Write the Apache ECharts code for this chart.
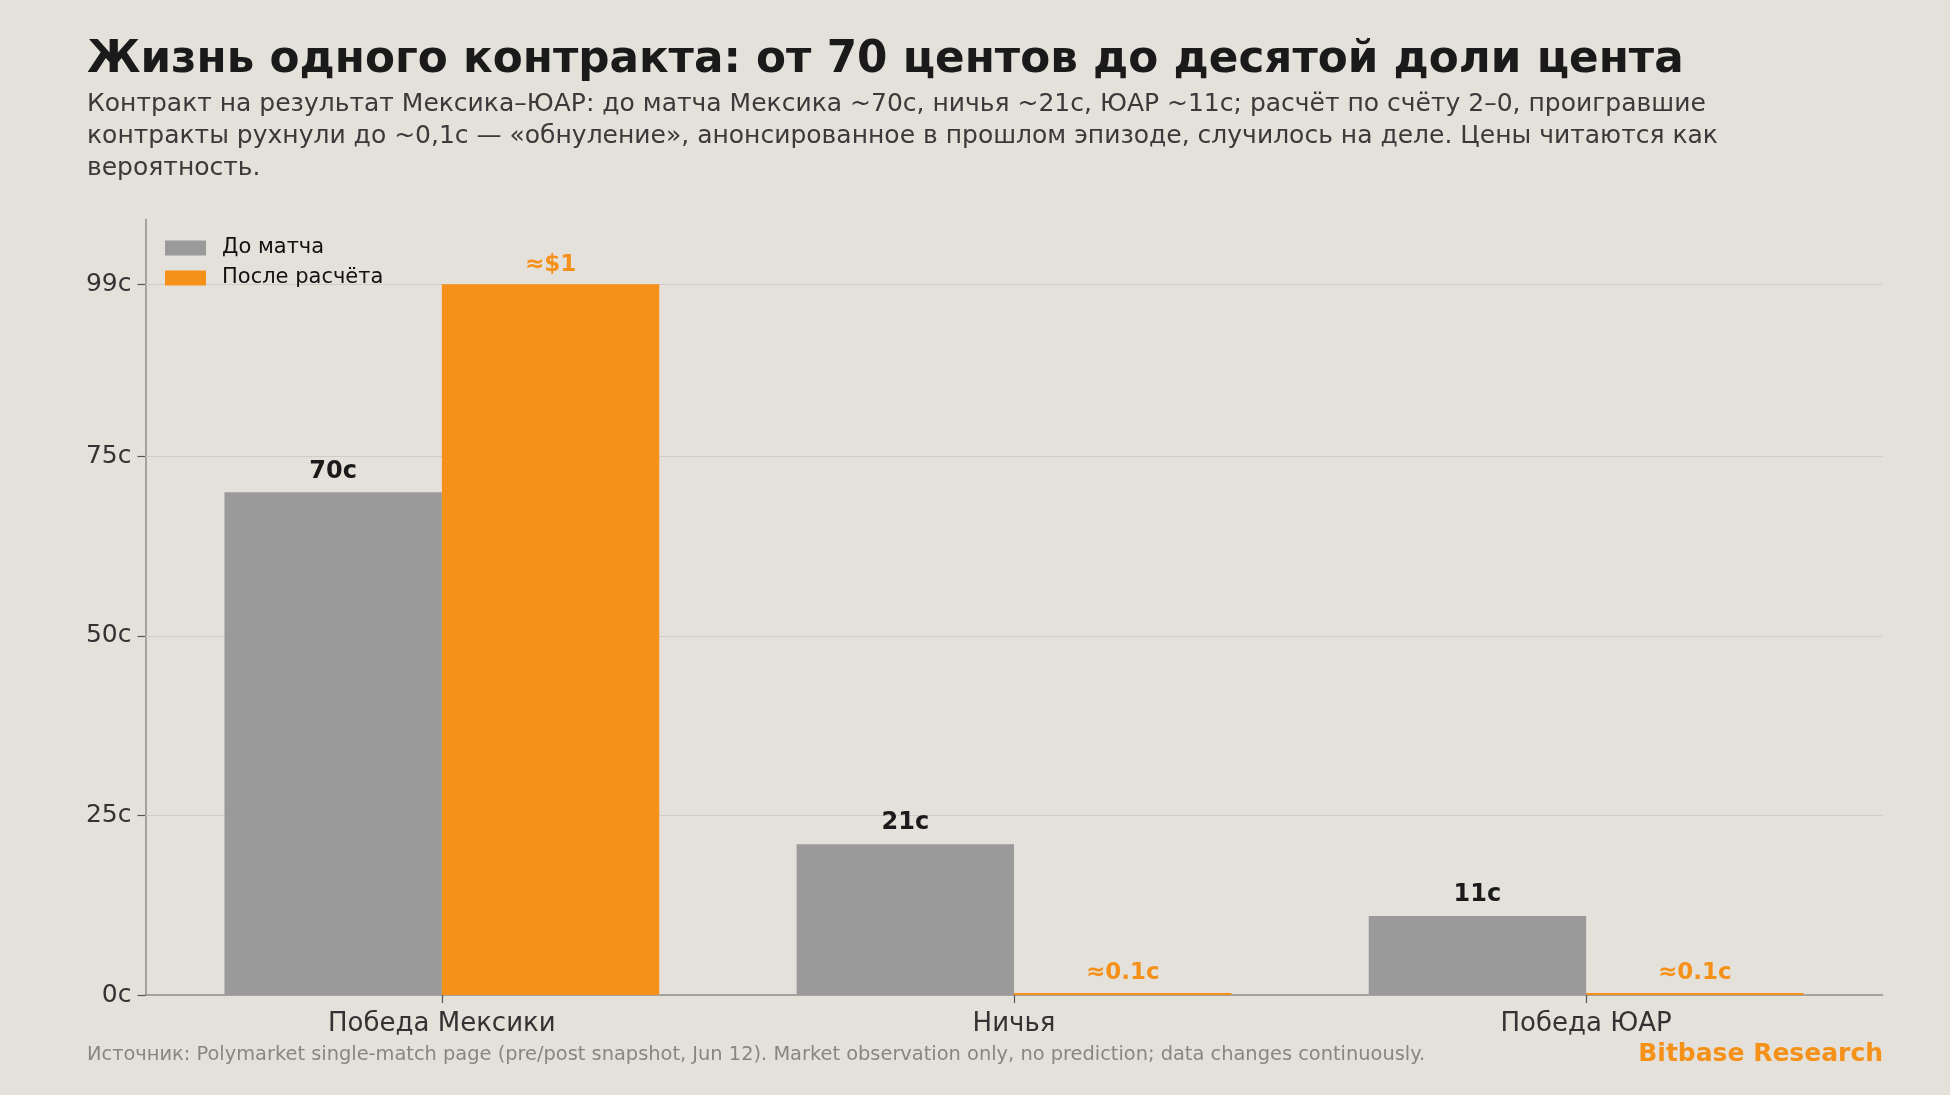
<!DOCTYPE html>
<html>
<head>
<meta charset="utf-8">
<script src="https://cdn.jsdelivr.net/npm/echarts@6/dist/echarts.min.js"></script>
<style>
  html, body { margin: 0; padding: 0; background: #e4e0da; }
  #chart { width: 1950px; height: 1095px; }
</style>
</head>
<body>
<div id="chart"></div>
<script>
// data
var categories = ['Победа Мексики', 'Ничья', 'Победа ЮАР'];
var preMatch = [70, 21, 11];
var postSettle = [99, 0.1, 0.1];
var preLabels = ['70c', '21c', '11c'];
var postLabels = ['≈$1', '≈0.1c', '≈0.1c'];
var yTicks = [0, 25, 50, 75, 99];
var seriesNames = ['До матча', 'После расчёта'];

var FONT = '"DejaVu Sans", sans-serif';
var GREY = '#9a9a9a', ORANGE = '#f59018';

function toPairs(arr) {
	return arr.map(function (v, i) { return [i, v]; });
}

var option = {
	backgroundColor: '#e4e0da',
	textStyle: { fontFamily: FONT },
	title: [{
		text: 'Жизнь одного контракта: от 70 центов до десятой доли цента',
		left: 87, top: 39, padding: 0,
		textStyle: { fontFamily: FONT, fontSize: 43.7, fontWeight: 'bold', color: '#1a1a1a' }
	}, {
		text: 'Контракт на результат Мексика–ЮАР: до матча Мексика ~70c, ничья ~21c, ЮАР ~11c; расчёт по счёту 2–0, проигравшие\n' +
			'контракты рухнули до ~0,1c — «обнуление», анонсированное в прошлом эпизоде, случилось на деле. Цены читаются как\n' +
			'вероятность.',
		left: 87, top: 88, padding: 0,
		textStyle: { fontFamily: FONT, fontSize: 25, fontWeight: 'normal', color: '#3a3a3a', lineHeight: 32 }
	}, {
		text: 'Источник: Polymarket single-match page (pre/post snapshot, Jun 12). Market observation only, no prediction; data changes continuously.',
		left: 87, top: 1045, padding: 0,
		textStyle: { fontFamily: FONT, fontSize: 19.4, fontWeight: 'normal', color: '#8a8580' }
	}, {
		text: 'Bitbase Research',
		right: 67, top: 1042, padding: 0,
		textStyle: { fontFamily: FONT, fontSize: 25, fontWeight: 'bold', color: ORANGE }
	}],
	legend: {
		orient: 'vertical',
		left: 165, top: 237, padding: 0,
		itemWidth: 41, itemHeight: 15, itemGap: 8,
		icon: 'rect',
		textStyle: { fontFamily: FONT, fontSize: 21, color: '#111', lineHeight: 22, padding: [0, 0, 0, 11] },
		data: seriesNames
	},
	grid: { left: 145.5, right: 67.5, top: 219.5, bottom: 100, containLabel: false },
	xAxis: {
		type: 'value',
		min: -0.518, max: 2.518,
		axisLine: { show: true, lineStyle: { color: '#8f8f8f', width: 1.5 } },
		axisTick: { show: true, customValues: [0, 1, 2], length: 8, lineStyle: { color: '#555', width: 1.2 } },
		axisLabel: {
			customValues: [0, 1, 2],
			formatter: function (v) { return categories[Math.round(v)]; },
			fontFamily: FONT, fontSize: 26, color: '#333', margin: 16
		},
		splitLine: { show: false }
	},
	yAxis: {
		type: 'value',
		min: 0, max: 108,
		axisLine: { show: true, onZero: false, lineStyle: { color: '#8f8f8f', width: 1.5 } },
		axisTick: { show: true, customValues: yTicks, length: 8, lineStyle: { color: '#555', width: 1.2 } },
		axisLabel: {
			customValues: yTicks,
			formatter: function (v) { return v + 'c'; },
			fontFamily: FONT, fontSize: 25, color: '#333', margin: 14
		},
		splitLine: { show: false }
	},
	series: [{
		name: seriesNames[0],
		type: 'bar',
		barWidth: 217.4,
		barGap: '0%',
		itemStyle: { color: GREY },
		data: toPairs(preMatch),
		label: {
			show: true, position: 'top', distance: 9,
			formatter: function (p) { return preLabels[p.dataIndex]; },
			fontFamily: FONT, fontSize: 24, fontWeight: 'bold', color: '#1a1a1a'
		},
		markLine: {
			silent: true, symbol: 'none', z: 1,
			label: { show: false },
			lineStyle: { color: '#cfcbc5', type: 'solid', width: 1.2 },
			data: yTicks.filter(function (t) { return t > 0; }).map(function (t) { return { yAxis: t }; })
		}
	}, {
		name: seriesNames[1],
		type: 'bar',
		barWidth: 217.4,
		barGap: '0%',
		barMinHeight: 2,
		itemStyle: { color: ORANGE },
		data: toPairs(postSettle),
		label: {
			show: true, position: 'top', distance: 8,
			formatter: function (p) { return postLabels[p.dataIndex]; },
			fontFamily: FONT, fontSize: 23, fontWeight: 'bold', color: ORANGE
		}
	}]
};

var myChart = echarts.init(document.getElementById('chart'));
myChart.setOption(option);
</script>
</body>
</html>
